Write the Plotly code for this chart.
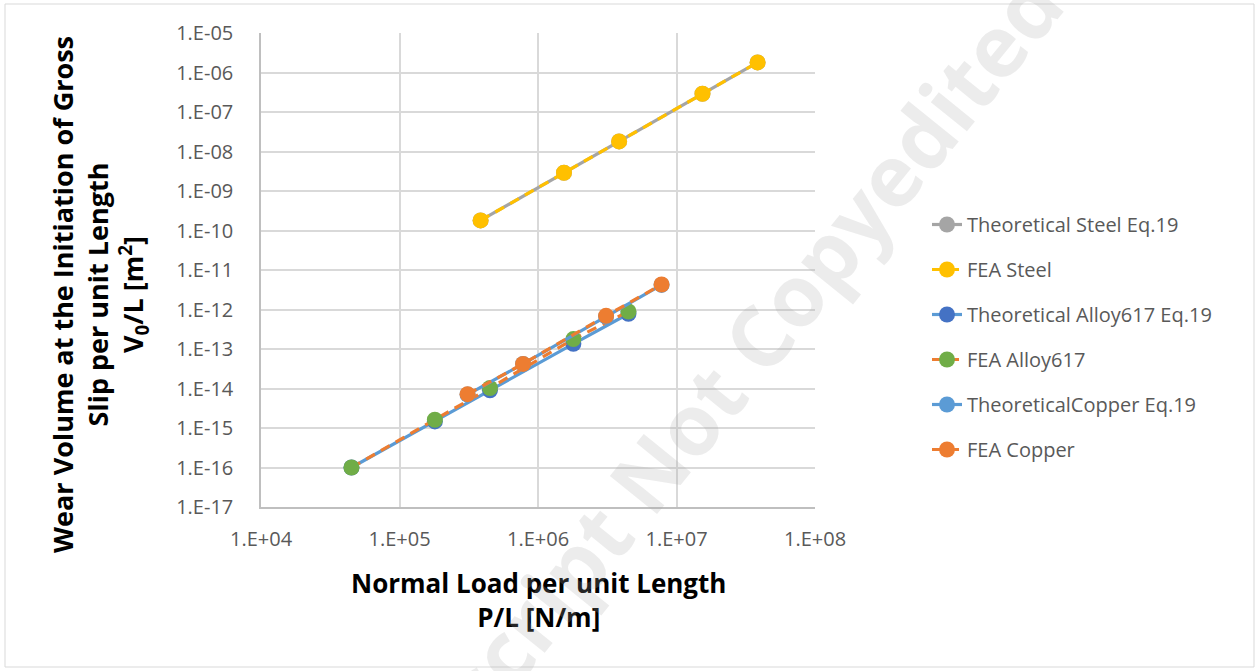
import plotly.graph_objects as go

# ---- data ----
steel_load = [3.85e5, 1.54e6, 3.85e6, 1.54e7, 3.85e7]
theo_steel = [1.8e-10, 2.9e-9, 1.8e-8, 2.9e-7, 1.8e-6]
fea_steel = [1.8e-10, 2.9e-9, 1.8e-8, 2.9e-7, 1.8e-6]

alloy_load = [4.5e4, 1.8e5, 4.5e5, 1.8e6, 4.5e6]
theo_alloy = [1.0e-16, 1.47e-15, 9.0e-15, 1.35e-13, 7.8e-13]
fea_alloy = [1.0e-16, 1.62e-15, 1.03e-14, 1.78e-13, 8.9e-13]

copper_load = [3.1e5, 7.8e5, 3.1e6, 7.8e6]
theo_copper = [7.0e-15, 4.2e-14, 6.6e-13, 4.2e-12]
fea_copper = [7.2e-15, 4.2e-14, 6.9e-13, 4.3e-12]

x_tickvals = [1e4, 1e5, 1e6, 1e7, 1e8]
x_ticktext = ["1.E+04", "1.E+05", "1.E+06", "1.E+07", "1.E+08"]
y_tickvals = [10.0 ** e for e in range(-17, -4)]
y_ticktext = ["1.E-%02d" % (-e) for e in range(-17, -4)]

series = [
    ("Theoretical Steel Eq.19", steel_load, theo_steel, "#A5A5A5", "solid", "#A5A5A5"),
    ("FEA Steel", steel_load, fea_steel, "#FFC000", "10px,7px", "#FFC000"),
    ("Theoretical Alloy617 Eq.19", alloy_load, theo_alloy, "#5B9BD5", "solid", "#4472C4"),
    ("FEA Alloy617", alloy_load, fea_alloy, "#ED7D31", "10px,7px", "#70AD47"),
    ("TheoreticalCopper Eq.19", copper_load, theo_copper, "#5B9BD5", "solid", "#5B9BD5"),
    ("FEA Copper", copper_load, fea_copper, "#ED7D31", "10px,7px", "#ED7D31"),
]

fig = go.Figure()
for i, (name, xs, ys, lc, dash, mc) in enumerate(series):
    fig.add_trace(go.Scatter(
        x=xs, y=ys, name=name, mode="lines+markers",
        line=dict(color=lc, width=3.2, dash=dash),
        marker=dict(color=mc, size=16),
        legendgroup="g%d" % i,
    ))

W, H = 1259, 671
L, R, T, B = 261, 815, 33, 507
pw, ph = R - L, B - T


def px(xp):
    return (xp - L) / pw


def py(yp):
    return (B - yp) / ph


tick_font = dict(family="Open Sans", size=20, color="#595959")
fig.update_layout(
    width=W, height=H,
    margin=dict(l=L, r=W - R, t=T, b=H - B, pad=0),
    paper_bgcolor="white", plot_bgcolor="white",
    showlegend=True,
    legend=dict(
        x=px(927), y=py(205), xanchor="left", yanchor="top",
        font=dict(family="Open Sans", size=20, color="#595959"),
        tracegroupgap=16, bgcolor="rgba(0,0,0,0)",
    ),
    xaxis=dict(
        type="log", range=[4, 8], tickvals=x_tickvals, ticktext=x_ticktext,
        showgrid=True, gridcolor="#D9D9D9", gridwidth=1.5,
        showline=True, linecolor="#BFBFBF", linewidth=1.5,
        ticks="", tickfont=tick_font, ticklabelstandoff=13, zeroline=False,
    ),
    yaxis=dict(
        type="log", range=[-17, -5], tickvals=y_tickvals, ticktext=y_ticktext,
        showgrid=True, gridcolor="#D9D9D9", gridwidth=1.5,
        showline=True, linecolor="#BFBFBF", linewidth=1.5,
        ticks="", tickfont=tick_font, ticklabelstandoff=22, zeroline=False,
    ),
    shapes=[dict(
        type="rect", xref="paper", yref="paper",
        x0=px(5), x1=px(1254), y0=py(667), y1=py(4),
        line=dict(color="#D9D9D9", width=1), fillcolor="rgba(0,0,0,0)", layer="below",
    )],
    annotations=[
        dict(
            text="Normal Load per unit Length<br>P/L [N/m]",
            xref="paper", yref="paper", x=px(538), y=py(600),
            xanchor="center", yanchor="middle", showarrow=False,
            font=dict(family="Open Sans", size=26, color="black", weight="bold"),
        ),
        dict(
            text="Wear Volume at the Initiation of Gross<br>Slip per unit Length<br>V<sub>0</sub>/L [m<sup>2</sup>]",
            xref="paper", yref="paper", x=px(99), y=py(295),
            xanchor="center", yanchor="middle", showarrow=False, textangle=-90,
            font=dict(family="Open Sans", size=27, color="black", weight="bold"),
        ),
        dict(
            text="Accepted Manuscript Not Copyedited",
            xref="paper", yref="paper", x=px(545), y=py(600),
            xanchor="center", yanchor="middle", showarrow=False, textangle=-51,
            font=dict(family="Open Sans", size=85, color="rgba(170,170,170,0.22)", weight="bold"),
        ),
    ],
)

fig.write_html("out.html")
